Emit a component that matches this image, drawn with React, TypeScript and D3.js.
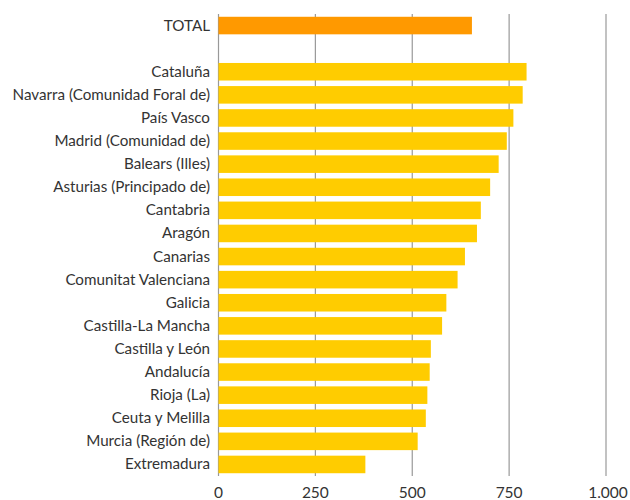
import React from 'react';
import * as d3 from 'd3';

const totalLabel = 'TOTAL';
const totalValue = 654;

const regions = [
  'Cataluña',
  'Navarra (Comunidad Foral de)',
  'País Vasco',
  'Madrid (Comunidad de)',
  'Balears (Illes)',
  'Asturias (Principado de)',
  'Cantabria',
  'Aragón',
  'Canarias',
  'Comunitat Valenciana',
  'Galicia',
  'Castilla-La Mancha',
  'Castilla y León',
  'Andalucía',
  'Rioja (La)',
  'Ceuta y Melilla ',
  'Murcia (Región de)',
  'Extremadura',
];
const regionValues = [795, 785, 761, 744, 723, 701, 677, 667, 636, 617, 588, 577, 548, 545, 539, 535, 514, 379];

const ticks = [0, 250, 500, 750, 1000];
const tickLabels = ['0', '250', '500', '750', '1.000'];

const W = 630;
const H = 500;
const FONT = 'Lato, "Open Sans", sans-serif';

const App = () => {
  const rows = [
    { name: totalLabel, value: totalValue, color: '#ff9900' },
    { name: '__gap', value: null, color: 'none' },
    ...regions.map((name, i) => ({ name, value: regionValues[i], color: '#ffcc00' })),
  ];

  const x = d3.scaleLinear().domain([0, 1000]).range([218.5, 606]);
  const y = d3.scaleBand()
    .domain(rows.map(d => d.name))
    .range([14, 476])
    .paddingInner(0.24)
    .paddingOuter(0.12);

  return (
    <svg width={W} height={H} style={{ position: 'absolute', left: 0, top: 0, background: '#fff' }}>
      {/* grid */}
      <g>
        {ticks.map((t, i) => (
          <line key={t} x1={x(t)} x2={x(t)} y1={14} y2={476} stroke="#999" strokeWidth={1.2} />
        ))}
      </g>
      {/* bars */}
      <g>
        {rows.filter(d => d.value != null).map((d, i) => (
          <rect key={i} x={x(0)} y={y(d.name)} width={x(d.value as number) - x(0)} height={y.bandwidth()} fill={d.color} />
        ))}
      </g>
      {/* category labels */}
      <g fontFamily={FONT} fontSize={15.2} fill="#333" textAnchor="end">
        {rows.filter(d => d.value != null).map((d, i) => (
          <text key={i} x={210} y={(y(d.name) as number) + y.bandwidth() / 2} dy="0.33em">{d.name}</text>
        ))}
      </g>
      {/* tick labels */}
      <g fontFamily={FONT} fontSize={15.5} fill="#333" textAnchor="middle">
        {ticks.map((t, i) => (
          <text key={t} x={x(t) + (i === 4 ? 2 : 0)} y={498}>{tickLabels[i]}</text>
        ))}
      </g>
    </svg>
  );
};

export default App;
